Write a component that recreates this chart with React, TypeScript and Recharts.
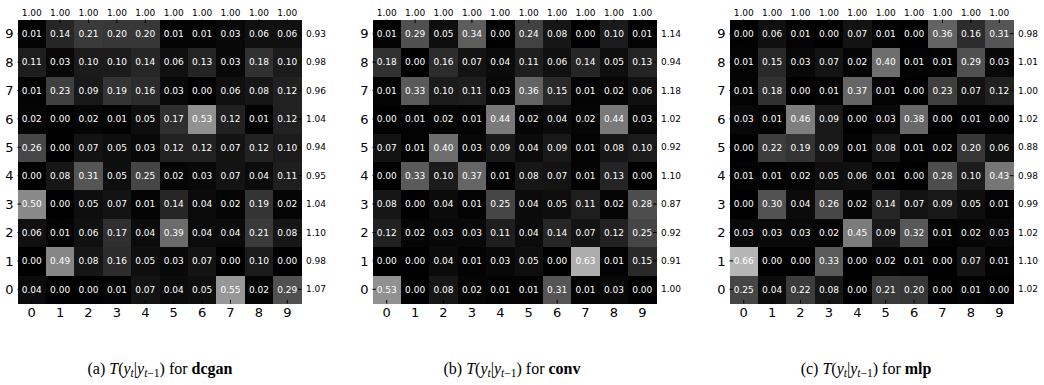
import React from 'react';
import { ScatterChart, Scatter, XAxis, YAxis } from 'recharts';

// ---------- data (matrix rows indexed by row label 0..9, columns 0..9) ----------
const axisLabels = [0, 1, 2, 3, 4, 5, 6, 7, 8, 9];

const dcganMatrix: number[][] = [
  [0.04, 0.0, 0.0, 0.01, 0.07, 0.04, 0.05, 0.55, 0.02, 0.29],
  [0.0, 0.49, 0.08, 0.16, 0.05, 0.03, 0.07, 0.0, 0.1, 0.0],
  [0.06, 0.01, 0.06, 0.17, 0.04, 0.39, 0.04, 0.04, 0.21, 0.08],
  [0.5, 0.0, 0.05, 0.07, 0.01, 0.14, 0.04, 0.02, 0.19, 0.02],
  [0.0, 0.08, 0.31, 0.05, 0.25, 0.02, 0.03, 0.07, 0.04, 0.11],
  [0.26, 0.0, 0.07, 0.05, 0.03, 0.12, 0.12, 0.07, 0.12, 0.1],
  [0.02, 0.0, 0.02, 0.01, 0.05, 0.17, 0.53, 0.12, 0.01, 0.12],
  [0.01, 0.23, 0.09, 0.19, 0.16, 0.03, 0.0, 0.06, 0.08, 0.12],
  [0.11, 0.03, 0.1, 0.1, 0.14, 0.06, 0.13, 0.03, 0.18, 0.1],
  [0.01, 0.14, 0.21, 0.2, 0.2, 0.01, 0.01, 0.03, 0.06, 0.06],
];
const dcganRowSums = ['1.07', '0.98', '1.10', '1.04', '0.95', '0.94', '1.04', '0.96', '0.98', '0.93'];
const dcganColSums = ['1.00', '1.00', '1.00', '1.00', '1.00', '1.00', '1.00', '1.00', '1.00', '1.00'];

const convMatrix: number[][] = [
  [0.53, 0.0, 0.08, 0.02, 0.01, 0.01, 0.31, 0.01, 0.03, 0.0],
  [0.0, 0.0, 0.04, 0.01, 0.03, 0.05, 0.0, 0.63, 0.01, 0.15],
  [0.12, 0.02, 0.03, 0.03, 0.11, 0.04, 0.14, 0.07, 0.12, 0.25],
  [0.08, 0.0, 0.04, 0.01, 0.25, 0.04, 0.05, 0.11, 0.02, 0.28],
  [0.0, 0.33, 0.1, 0.37, 0.01, 0.08, 0.07, 0.01, 0.13, 0.0],
  [0.07, 0.01, 0.4, 0.03, 0.09, 0.04, 0.09, 0.01, 0.08, 0.1],
  [0.0, 0.01, 0.02, 0.01, 0.44, 0.02, 0.04, 0.02, 0.44, 0.03],
  [0.01, 0.33, 0.1, 0.11, 0.03, 0.36, 0.15, 0.01, 0.02, 0.06],
  [0.18, 0.0, 0.16, 0.07, 0.04, 0.11, 0.06, 0.14, 0.05, 0.13],
  [0.01, 0.29, 0.05, 0.34, 0.0, 0.24, 0.08, 0.0, 0.1, 0.01],
];
const convRowSums = ['1.00', '0.91', '0.92', '0.87', '1.10', '0.92', '1.02', '1.18', '0.94', '1.14'];
const convColSums = ['1.00', '1.00', '1.00', '1.00', '1.00', '1.00', '1.00', '1.00', '1.00', '1.00'];

const mlpMatrix: number[][] = [
  [0.25, 0.04, 0.22, 0.08, 0.0, 0.21, 0.2, 0.0, 0.01, 0.0],
  [0.66, 0.0, 0.0, 0.33, 0.0, 0.02, 0.01, 0.0, 0.07, 0.01],
  [0.03, 0.03, 0.03, 0.02, 0.45, 0.09, 0.32, 0.01, 0.02, 0.03],
  [0.0, 0.3, 0.04, 0.26, 0.02, 0.14, 0.07, 0.09, 0.05, 0.01],
  [0.01, 0.01, 0.02, 0.05, 0.06, 0.01, 0.0, 0.28, 0.1, 0.43],
  [0.0, 0.22, 0.19, 0.09, 0.01, 0.08, 0.01, 0.02, 0.2, 0.06],
  [0.03, 0.01, 0.46, 0.09, 0.0, 0.03, 0.38, 0.0, 0.01, 0.0],
  [0.01, 0.18, 0.0, 0.01, 0.37, 0.01, 0.0, 0.23, 0.07, 0.12],
  [0.01, 0.15, 0.03, 0.07, 0.02, 0.4, 0.01, 0.01, 0.29, 0.03],
  [0.0, 0.06, 0.01, 0.0, 0.07, 0.01, 0.0, 0.36, 0.16, 0.31],
];
const mlpRowSums = ['1.02', '1.10', '1.02', '0.99', '0.98', '0.88', '1.02', '1.00', '1.01', '0.98'];
const mlpColSums = ['1.00', '1.00', '1.00', '1.00', '1.00', '1.00', '1.00', '1.00', '1.00', '1.00'];

const captionLetters = ['a', 'b', 'c'];
const modelNames = ['dcgan', 'conv', 'mlp'];

// ---------- layout ----------
const PLOT = 284;
const CELL = PLOT / 10;
const LEFT_W = 17.5;
const TOP_H = 19.5;
const CHART_W = 340;
const CHART_H = 325;
const RIGHT_W = CHART_W - LEFT_W - PLOT;
const BOTTOM_H = CHART_H - TOP_H - PLOT;
const SANS = '"DejaVu Sans", sans-serif';

function gray(v: number): string {
  const g = Math.round(255 * Math.min(1, v / 0.93));
  return `rgb(${g},${g},${g})`;
}

function HeatCell(props: any) {
  const { cx, cy, payload } = props;
  if (cx == null || cy == null || !payload) return <g />;
  const h = CELL / 2;
  const t = 3.5;
  const col = payload.x;
  const row = payload.y;
  return (
    <g>
      <rect x={cx - h} y={cy - h} width={CELL + 0.4} height={CELL + 0.4} fill={gray(payload.v)} shapeRendering="crispEdges" />
      <text x={cx} y={cy} dy="0.36em" textAnchor="middle" fill="#fff" fontSize={9} fontFamily={SANS}>
        {payload.v.toFixed(2)}
      </text>
      {col === 0 && <line x1={cx - h} x2={cx - h + t} y1={cy} y2={cy} stroke="#000" strokeWidth={1} />}
      {col === 9 && <line x1={cx + h} x2={cx + h - t} y1={cy} y2={cy} stroke="#000" strokeWidth={1} />}
      {row === 9 && <line x1={cx} x2={cx} y1={cy - h} y2={cy - h + t} stroke="#000" strokeWidth={1} />}
      {row === 0 && <line x1={cx} x2={cx} y1={cy + h} y2={cy + h - t} stroke="#000" strokeWidth={1} />}
    </g>
  );
}

function Empty() {
  return <g />;
}

function Heatmap({ matrix, rowSums, colSums }: { matrix: number[][]; rowSums: string[]; colSums: string[] }) {
  const cells: { x: number; y: number; v: number }[] = [];
  matrix.forEach((rowVals, r) => rowVals.forEach((v, c) => cells.push({ x: c, y: r, v })));
  const dom: [number, number] = [-0.5, 9.5];
  return (
    <ScatterChart width={CHART_W} height={CHART_H} margin={{ top: 0, right: 0, bottom: 0, left: 0 }}>
      <XAxis
        xAxisId="bottom"
        type="number"
        dataKey="x"
        domain={dom}
        ticks={axisLabels}
        interval={0}
        orientation="bottom"
        height={BOTTOM_H}
        axisLine={false}
        tickLine={false}
        tickSize={0}
        tickMargin={4}
        tick={{ fontSize: 13, fill: '#000', fontFamily: SANS }}
      />
      <XAxis
        xAxisId="top"
        type="number"
        dataKey="x"
        domain={dom}
        ticks={axisLabels}
        interval={0}
        orientation="top"
        height={TOP_H}
        axisLine={false}
        tickLine={false}
        tickSize={0}
        tickMargin={3.5}
        tickFormatter={(v: number) => colSums[v]}
        tick={{ fontSize: 9, fill: '#000', fontFamily: SANS }}
      />
      <YAxis
        yAxisId="left"
        type="number"
        dataKey="y"
        domain={dom}
        ticks={axisLabels}
        interval={0}
        orientation="left"
        width={LEFT_W}
        axisLine={false}
        tickLine={false}
        tickSize={0}
        tickMargin={4}
        tick={{ fontSize: 13, fill: '#000', fontFamily: SANS }}
      />
      <YAxis
        yAxisId="right"
        type="number"
        dataKey="y"
        domain={dom}
        ticks={axisLabels}
        interval={0}
        orientation="right"
        width={RIGHT_W}
        axisLine={false}
        tickLine={false}
        tickSize={0}
        tickMargin={4.5}
        tickFormatter={(v: number) => rowSums[v]}
        tick={{ fontSize: 9, fill: '#000', fontFamily: SANS }}
      />
      <Scatter data={cells} xAxisId="bottom" yAxisId="left" shape={HeatCell} isAnimationActive={false} />
      <Scatter data={cells} xAxisId="top" yAxisId="right" shape={Empty} isAnimationActive={false} />
    </ScatterChart>
  );
}

function Caption({ letter, model }: { letter: string; model: string }) {
  const sub: React.CSSProperties = { fontSize: '0.72em', verticalAlign: '-0.3em', lineHeight: 0 };
  return (
    <span>
      ({letter}) <i>T</i>(<i>y</i>
      <span style={sub}>
        <i>t</i>
      </span>
      |<i>y</i>
      <span style={sub}>
        <i>t</i>−1
      </span>
      ) for <b>{model}</b>
    </span>
  );
}

const panels = [
  { matrix: dcganMatrix, rowSums: dcganRowSums, colSums: dcganColSums, plotLeft: 17.5, captionX: 160 },
  { matrix: convMatrix, rowSums: convRowSums, colSums: convColSums, plotLeft: 372.5, captionX: 512 },
  { matrix: mlpMatrix, rowSums: mlpRowSums, colSums: mlpColSums, plotLeft: 729, captionX: 866 },
];

export default function App() {
  return (
    <div style={{ position: 'absolute', left: 0, top: 0, width: 1044, height: 385, overflow: 'hidden', background: '#fff' }}>
      {panels.map((p, i) => (
        <div key={i} style={{ position: 'absolute', left: p.plotLeft - LEFT_W, top: 0 }}>
          <Heatmap matrix={p.matrix} rowSums={p.rowSums} colSums={p.colSums} />
        </div>
      ))}
      {panels.map((p, i) => (
        <div
          key={'c' + i}
          style={{
            position: 'absolute',
            left: p.captionX - 150,
            width: 300,
            top: 359,
            textAlign: 'center',
            fontFamily: '"Liberation Serif", serif',
            fontSize: 16,
            lineHeight: '20px',
            color: '#000',
          }}
        >
          <Caption letter={captionLetters[i]} model={modelNames[i]} />
        </div>
      ))}
    </div>
  );
}
